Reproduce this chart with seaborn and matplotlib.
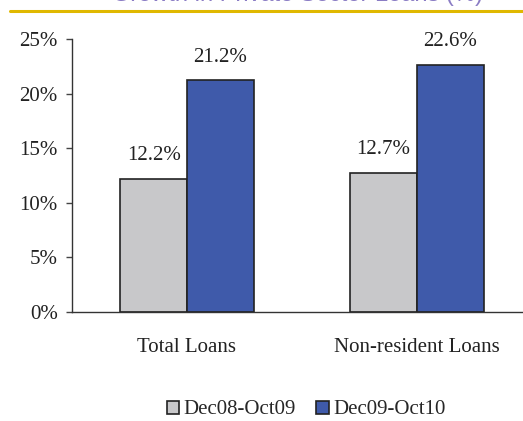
import pandas as pd
import matplotlib
matplotlib.use('Agg')
import matplotlib.pyplot as plt
import seaborn as sns

categories = ['Total Loans', 'Non-resident Loans']
periods = ['Dec08-Oct09', 'Dec09-Oct10']
growth_0809 = [0.122, 0.127]
growth_0910 = [0.212, 0.226]
yticks = [0, 0.05, 0.10, 0.15, 0.20, 0.25]
ytick_labels = ['0%', '5%', '10%', '15%', '20%', '25%']
title = 'Growth in Private Sector Loans (%)'

df = pd.DataFrame({
    'Category': categories * 2,
    'Period': [periods[0]] * 2 + [periods[1]] * 2,
    'Growth': growth_0809 + growth_0910,
})

sns.set_style("white")
plt.rcParams['font.family'] = ['Liberation Serif', 'DejaVu Serif']

fig = plt.figure(figsize=(5.23, 4.21), dpi=100)
ax = fig.add_axes([72 / 523, 109 / 421, 460 / 523, 273 / 421])

colors = ['#C8C8CA', '#3F5AAA']
sns.barplot(data=df, x='Category', y='Growth', hue='Period', palette=colors,
            saturation=1, width=0.58, edgecolor='#222222', linewidth=1.2,
            ax=ax, legend=True)

for container in ax.containers:
    ax.bar_label(container, labels=[f'{v * 100:.1f}%' for v in container.datavalues],
                 padding=10, fontsize=15, color='#222222')

ax.set_xlim(-0.5, 1.5)
ax.set_ylim(0, 0.25)
ax.set_yticks(yticks)
ax.set_yticklabels(ytick_labels, fontsize=15, color='#222222')
ax.set_xticks([0, 1])
ax.set_xticklabels(categories, fontsize=15, color='#222222')
ax.set_xticks([-0.5, 0.5, 1.5], minor=True)
ax.tick_params(axis='x', which='major', length=0, pad=19)
ax.tick_params(axis='x', which='minor', length=4.3, width=1, color='#888888', direction='out')
ax.tick_params(axis='y', length=4.3, width=1, color='#444444', direction='out', pad=6, left=True)
ax.set_xlabel('')
ax.set_ylabel('')
for s in ['top', 'right']:
    ax.spines[s].set_visible(False)
for s in ['left', 'bottom']:
    ax.spines[s].set_color('#333333')
    ax.spines[s].set_linewidth(1)

handles, labels = ax.get_legend_handles_labels()
ax.legend_.remove()
fig.legend(handles, labels, loc='center', bbox_to_anchor=(306 / 523, 1 - 410 / 421),
           ncol=2, frameon=False, fontsize=15, handlelength=0.6, handleheight=0.6,
           handletextpad=0.2, columnspacing=1.0, borderaxespad=0)

# clipped title band at the top
fig.text(297 / 523, 1 - 1.2 / 421, title, ha='center', va='baseline', fontsize=17,
         color='#8A7CC4', family=['Liberation Sans', 'DejaVu Sans'])
fig.add_artist(plt.Line2D([10 / 523, 1], [1 - 11 / 421, 1 - 11 / 421],
                          color='#E0B800', linewidth=2.2, transform=fig.transFigure))

fig.savefig('out.png', dpi=100)
plt.close(fig)
